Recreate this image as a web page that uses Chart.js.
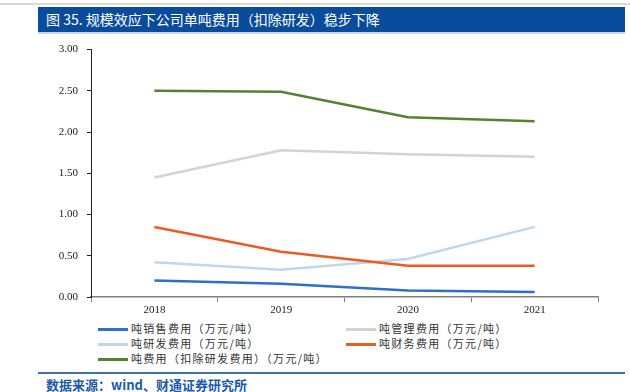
<!DOCTYPE html>
<html><head><meta charset="utf-8">
<script src="https://cdn.jsdelivr.net/npm/chart.js@4/dist/chart.umd.min.js"></script>
<style>
html,body{margin:0;padding:0;background:#fff;width:630px;height:392px;overflow:hidden;position:relative;font-family:"Noto Sans CJK SC","Noto Sans",sans-serif;}
#topline{position:absolute;left:0;top:3px;width:630px;height:2px;background:#d9d9d9;}
#title{position:absolute;left:38px;top:7px;width:587px;height:25px;background:#0a4c9c;color:#fff;font-size:14px;line-height:25px;padding-left:8px;box-sizing:border-box;white-space:nowrap;}
#title:after{content:"";position:absolute;left:0;right:0;bottom:-2px;height:2px;background:#c9d6e6;}
#wrap{position:absolute;left:40px;top:34px;width:570px;height:281px;}
#legend{position:absolute;left:98px;top:321px;width:520px;font-size:11px;color:#333;font-family:"Noto Sans CJK SC",serif;}
.li{position:absolute;height:15px;line-height:15px;white-space:nowrap;letter-spacing:1.3px;}
.li span.sw{display:inline-block;width:30px;height:3px;vertical-align:middle;margin-right:3px;position:relative;top:-1px;}
#botline{position:absolute;left:38px;top:372px;width:587px;height:2px;background:#3d6fb0;}
#source{position:absolute;left:46px;top:375px;font-size:13px;color:#1a5aa8;font-weight:bold;white-space:nowrap;}
</style></head>
<body>
<div id="topline"></div>
<div id="title">图 35. 规模效应下公司单吨费用（扣除研发）稳步下降</div>
<div id="wrap"><canvas id="c"></canvas></div>
<div id="legend"></div>
<div id="botline"></div>
<div id="source">数据来源：wind、财通证券研究所</div>
<script>
const categories = ["2018", "2019", "2020", "2021"];
const seriesNames = ["吨销售费用（万元/吨）", "吨管理费用（万元/吨）", "吨研发费用（万元/吨）", "吨财务费用（万元/吨）", "吨费用（扣除研发费用）（万元/吨）"];
const salesPerTon = [0.20, 0.16, 0.08, 0.06];
const adminPerTon = [1.45, 1.78, 1.73, 1.70];
const rdPerTon = [0.42, 0.33, 0.46, 0.85];
const financePerTon = [0.85, 0.55, 0.38, 0.38];
const totalExRdPerTon = [2.50, 2.49, 2.18, 2.13];
const yTicks = [0, 0.5, 1.0, 1.5, 2.0, 2.5, 3.0];

const colors = ["#2e6fc9", "#d3d3d3", "#bdd7ee", "#ee5a1f", "#548235"];
const values = [salesPerTon, adminPerTon, rdPerTon, financePerTon, totalExRdPerTon];

const datasets = values.map((v, i) => ({
  label: seriesNames[i], data: v, borderColor: colors[i], backgroundColor: colors[i],
  borderWidth: 2.5, pointRadius: 0, tension: 0, fill: false
}));
datasets[0].order = 1; datasets[1].order = 5; datasets[2].order = 4; datasets[3].order = 2; datasets[4].order = 0;

new Chart(document.getElementById('c'), {
  type: 'line',
  data: { labels: categories, datasets },
  options: {
    responsive: true, maintainAspectRatio: false, animation: false,
    layout: { padding: { top: 6, right: 12, left: 0, bottom: 0 } },
    plugins: { legend: { display: false }, tooltip: { enabled: false } },
    scales: {
      x: {
        offset: true,
        grid: { offset: true, drawOnChartArea: false, drawTicks: true, tickLength: 5, color: '#808080' },
        border: { color: '#808080', width: 1.5 },
        ticks: { color: '#222', font: { family: 'Liberation Serif', size: 11 }, padding: 2, maxRotation: 0 },
        afterFit: s => { s.height = 18; }
      },
      y: {
        min: 0, max: 3,
        afterBuildTicks: s => { s.ticks = yTicks.map(v => ({ value: v })); },
        grid: { drawOnChartArea: false, drawTicks: true, tickLength: 4, color: '#222' },
        border: { color: '#222', width: 1 },
        ticks: { color: '#222', font: { family: 'Liberation Serif', size: 11 }, padding: 9, callback: v => Number(v).toFixed(2) },
        afterFit: s => { s.width = 51; }
      }
    }
  }
});

const pos = [[0,0],[248,0],[0,15],[248,15],[0,30]];
const lg = document.getElementById('legend');
seriesNames.forEach((n, i) => {
  const d = document.createElement('div');
  d.className = 'li';
  d.style.left = pos[i][0] + 'px'; d.style.top = pos[i][1] + 'px';
  d.innerHTML = '<span class="sw" style="background:' + colors[i] + '"></span>' + n;
  lg.appendChild(d);
});
</script>
</body></html>
